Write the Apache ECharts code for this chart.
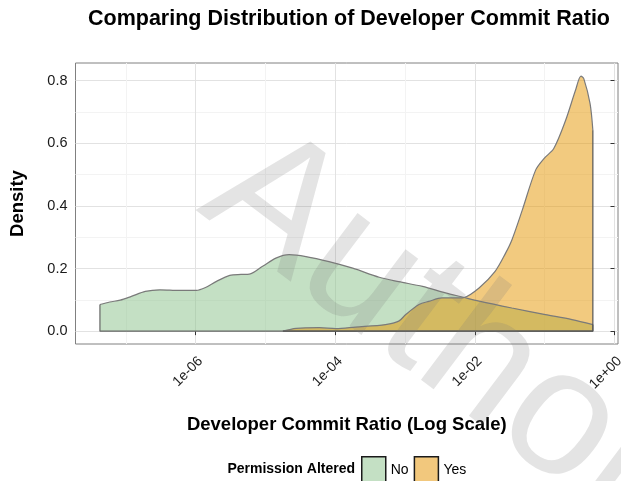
<!DOCTYPE html>
<html>
<head>
<meta charset="utf-8">
<script src="https://cdn.jsdelivr.net/npm/echarts@6/dist/echarts.min.js"></script>
<style>
  html, body { margin: 0; padding: 0; background: #fff; }
  #chart { width: 621px; height: 481px; }
</style>
</head>
<body>
<div id="chart"></div>
<script>
const FONT = "'Liberation Sans', Arial, Helvetica, sans-serif";

// x values are log10(commit ratio)
const noX = [-7.37, -7.23, -7.08, -6.92, -6.72, -6.51, -6.23, -5.99, -5.85, -5.70, -5.51, -5.35, -5.23, -5.04, -4.85, -4.66, -4.42, -4.09, -3.75, -3.37, -3.09, -2.75, -2.42, -2.18, -1.94, -1.47, -0.99, -0.61, -0.31];
const noDensity = [0.085, 0.093, 0.099, 0.111, 0.127, 0.132, 0.130, 0.130, 0.140, 0.159, 0.178, 0.181, 0.182, 0.207, 0.233, 0.244, 0.238, 0.222, 0.201, 0.172, 0.158, 0.143, 0.122, 0.109, 0.096, 0.074, 0.053, 0.037, 0.021];

const yesX = [-4.75, -4.56, -4.23, -3.99, -3.71, -3.28, -3.09, -2.99, -2.80, -2.66, -2.47, -2.23, -2.16, -1.94, -1.71, -1.56, -1.47, -1.32, -1.13, -1.01, -0.87, -0.70, -0.56, -0.48, -0.44, -0.35, -0.31];
const yesDensity = [0.0, 0.009, 0.011, 0.008, 0.013, 0.021, 0.032, 0.053, 0.085, 0.095, 0.106, 0.106, 0.107, 0.138, 0.191, 0.249, 0.291, 0.387, 0.514, 0.551, 0.583, 0.673, 0.768, 0.814, 0.806, 0.726, 0.641];

const xTickValues = [-6, -4, -2, 0];
const xTickLabels = ['1e-06', '1e-04', '1e-02', '1e+00'];
const xMinorValues = [-7, -5, -3, -1];
const yTickValues = [0, 0.2, 0.4, 0.6, 0.8];
const yMinorValues = [0.1, 0.3, 0.5, 0.7];

const chart = echarts.init(document.getElementById('chart'));

function pairs(xs, ys) {
    return xs.map((x, i) => [x, ys[i]]);
}
// vertical edges + baseline of a density polygon
function outline(xs, ys) {
    const n = xs.length - 1;
    return [[xs[0], ys[0]], [xs[0], 0], [xs[n], 0], [xs[n], ys[n]]];
}

const lineGrey = '#7a7a7a';

const option = {
    animation: false,
    grid: {
        left: 75.5, right: 3, top: 63, bottom: 137,
        outerBoundsMode: 'none', containLabel: false,
        show: true, borderColor: '#808080', borderWidth: 1
    },
    xAxis: [
        {
            type: 'value', min: -7.72, max: 0.05,
            name: 'Developer Commit Ratio (Log Scale)',
            nameLocation: 'middle', nameGap: 71,
            nameTextStyle: { fontFamily: FONT, fontSize: 18.5, fontWeight: 'bold', color: '#000' },
            axisLine: { show: false },
            axisTick: { show: true, customValues: xTickValues, length: 4, lineStyle: { color: '#333' } },
            axisLabel: {
                customValues: xTickValues, rotate: 45, margin: 10,
                align: 'right', verticalAlign: 'top',
                fontFamily: FONT, fontSize: 14, color: '#1a1a1a',
                formatter: v => xTickLabels[xTickValues.indexOf(v)]
            },
            splitLine: { show: true, lineStyle: { color: '#e2e2e2', width: 1 } }
        },
        {
            type: 'value', min: -7.72, max: 0.05,
            axisLine: { show: false },
            axisTick: { show: false, customValues: xMinorValues },
            axisLabel: { show: false },
            splitLine: { show: true, lineStyle: { color: '#f3f3f3', width: 1 } }
        }
    ],
    yAxis: [
        {
            type: 'value', min: -0.041, max: 0.856,
            name: 'Density', nameLocation: 'middle', nameGap: 48,
            nameTextStyle: { fontFamily: FONT, fontSize: 18.5, fontWeight: 'bold', color: '#000' },
            axisLine: { show: false },
            axisTick: { show: true, customValues: yTickValues, length: 4, lineStyle: { color: '#333' } },
            axisLabel: {
                customValues: yTickValues, margin: 8,
                fontFamily: FONT, fontSize: 14.5, color: '#1a1a1a',
                formatter: v => v.toFixed(1)
            },
            splitLine: { show: true, lineStyle: { color: '#e2e2e2', width: 1 } }
        },
        {
            type: 'value', min: -0.041, max: 0.856,
            axisLine: { show: false },
            axisTick: { show: false, customValues: yMinorValues },
            axisLabel: { show: false },
            splitLine: { show: true, lineStyle: { color: '#f3f3f3', width: 1 } }
        }
    ],
    legend: {
        left: 361, top: 456, padding: 0,
        itemWidth: 24, itemHeight: 26, itemGap: 5,
        icon: 'rect',
        textStyle: { fontFamily: FONT, fontSize: 14, color: '#000' },
        data: [
            { name: 'No', itemStyle: { color: '#c4e0c4', borderColor: '#1a1a1a', borderWidth: 1.5 } },
            { name: 'Yes', itemStyle: { color: '#f2c87d', borderColor: '#1a1a1a', borderWidth: 1.5 } }
        ]
    },
    graphic: [
        {
            type: 'text', x: 349, y: 19, z: 10,
            style: { text: 'Comparing Distribution of Developer Commit Ratio', font: 'bold 21.5px ' + FONT, fill: '#000', textAlign: 'center', textVerticalAlign: 'middle' }
        },
        {
            type: 'text', x: 355, y: 469, z: 10,
            style: { text: 'Permission Altered', font: 'bold 14px ' + FONT, fill: '#000', textAlign: 'right', textVerticalAlign: 'middle' }
        },
        {
            // watermark
            type: 'text', x: 225, y: 170, z: 100, rotation: -37 * Math.PI / 180,
            style: { text: 'Author', font: '180px ' + FONT, fill: 'rgba(120,120,120,0.2)', textAlign: 'left', textVerticalAlign: 'middle' }
        }
    ],
    series: [
        {
            name: 'No', type: 'line', xAxisIndex: 0, yAxisIndex: 0,
            data: pairs(noX, noDensity),
            smooth: 0.3, showSymbol: false, silent: true,
            lineStyle: { color: lineGrey, width: 1.2 },
            itemStyle: { color: '#c4e0c4' },
            areaStyle: { color: '#89c189', opacity: 0.5 }
        },
        {
            name: 'No outline', type: 'line', data: outline(noX, noDensity),
            showSymbol: false, silent: true,
            lineStyle: { color: '#666', width: 1.2 }
        },
        {
            name: 'Yes', type: 'line', xAxisIndex: 0, yAxisIndex: 0,
            data: pairs(yesX, yesDensity),
            smooth: 0.3, showSymbol: false, silent: true,
            lineStyle: { color: lineGrey, width: 1.2 },
            itemStyle: { color: '#f2c87d' },
            areaStyle: { color: '#e69600', opacity: 0.5 }
        },
        {
            name: 'Yes outline', type: 'line', data: outline(yesX, yesDensity),
            showSymbol: false, silent: true,
            lineStyle: { color: '#555', width: 1.2 }
        }
    ]
};

chart.setOption(option);
</script>
</body>
</html>
